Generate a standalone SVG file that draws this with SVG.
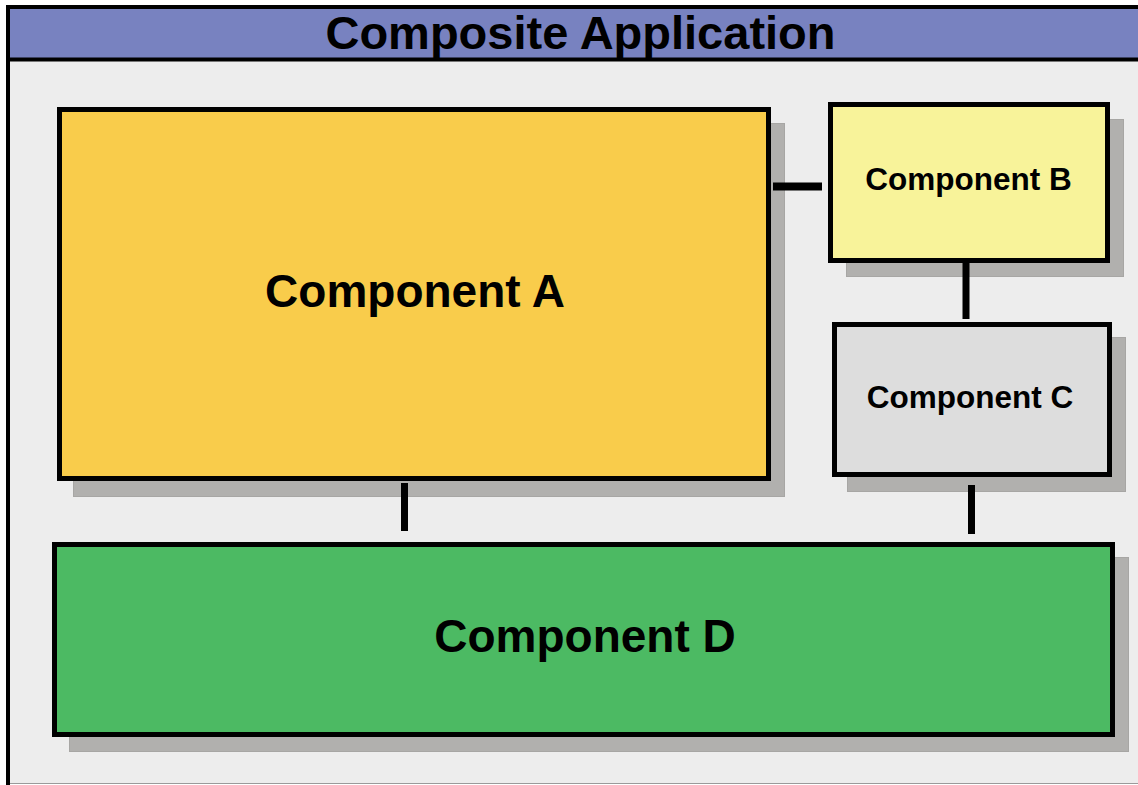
<svg xmlns="http://www.w3.org/2000/svg" width="1138" height="785" viewBox="0 0 1138 785">
  <style>
    .box { stroke: #000; stroke-width: 5; }
    .shadow { fill: #B1B0AE; stroke: #A7A6A4; stroke-width: 1; }
    .lbl { font-family: "Liberation Sans", Arial, sans-serif; font-weight: bold; fill: #000; text-anchor: middle; }
    .conn { stroke: #000; fill: none; }
  </style>
  <rect x="0" y="0" width="1138" height="785" fill="#FFFFFF"/>
  <g id="frame">
    <rect x="10" y="60" width="1128" height="723" fill="#EDEDED"/>
    <rect x="10" y="9" width="1128" height="49" fill="#7882C0"/>
    <line x1="8" y1="59.5" x2="1138" y2="59.5" stroke="#000" stroke-width="4"/>
    <line x1="6" y1="7" x2="1138" y2="7" stroke="#000" stroke-width="4"/>
    <line x1="8" y1="5" x2="8" y2="785" stroke="#000" stroke-width="4"/>
    <line x1="10" y1="783.5" x2="1138" y2="783.5" stroke="#9A9A9A" stroke-width="1"/>
    <text class="lbl" x="580.5" y="49" font-size="47">Composite Application</text>
  </g>
  <g id="componentA">
    <rect class="shadow" x="73.5" y="123.5" width="711" height="373"/>
    <rect class="box" x="59.5" y="109.5" width="709" height="369" fill="#F9CC4B"/>
    <text class="lbl" x="415" y="307" font-size="46">Component A</text>
  </g>
  <g id="componentB">
    <rect class="shadow" x="846.5" y="119.5" width="277" height="157"/>
    <rect class="box" x="830.5" y="104.5" width="277" height="156" fill="#F8F39A"/>
    <text class="lbl" x="968.5" y="190" font-size="31.5">Component B</text>
  </g>
  <g id="componentC">
    <rect class="shadow" x="847.5" y="337.5" width="278" height="154"/>
    <rect class="box" x="834.5" y="324.5" width="275" height="150" fill="#DDDDDD"/>
    <text class="lbl" x="970" y="408" font-size="31.5">Component C</text>
  </g>
  <g id="componentD">
    <rect class="shadow" x="69.5" y="557.5" width="1059" height="194"/>
    <rect class="box" x="54.5" y="544.5" width="1058" height="190" fill="#4CBA63"/>
    <text class="lbl" x="585" y="652" font-size="46">Component D</text>
  </g>
  <g id="connectors">
    <line class="conn" x1="773" y1="186.5" x2="822" y2="186.5" stroke-width="8"/>
    <line class="conn" x1="966" y1="263" x2="966" y2="319" stroke-width="7"/>
    <line class="conn" x1="971.5" y1="485" x2="971.5" y2="534" stroke-width="7"/>
    <line class="conn" x1="404.5" y1="483" x2="404.5" y2="531" stroke-width="7"/>
  </g>
</svg>
